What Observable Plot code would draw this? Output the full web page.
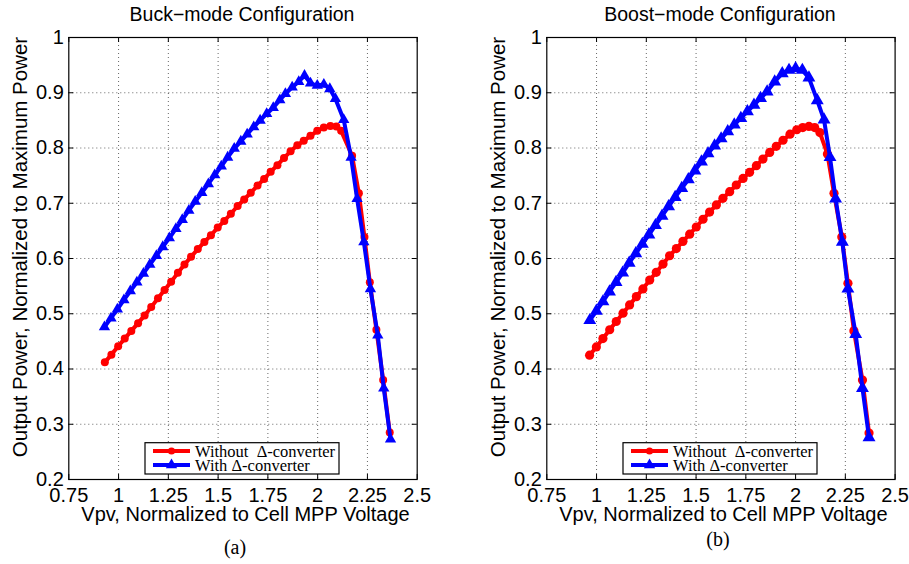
<!DOCTYPE html>
<html><head><meta charset="utf-8">
<script src="https://cdn.jsdelivr.net/npm/d3@7"></script>
<script src="https://cdn.jsdelivr.net/npm/@observablehq/plot@0.6"></script>
<style>
body{margin:0;background:#fff;}
#fig{position:relative;width:909px;height:564px;overflow:hidden;background:#fff;}
#fig svg{position:absolute;top:0;}
</style></head><body><div id="fig"></div>
<script>
// ---- tick values & labels ----
const xTicks = [0.75, 1, 1.25, 1.5, 1.75, 2, 2.25, 2.5];
const xTickLabels = ["0.75", "1", "1.25", "1.5", "1.75", "2", "2.25", "2.5"];
const yTicks = [0.2, 0.3, 0.4, 0.5, 0.6, 0.7, 0.8, 0.9, 1];
const yTickLabels = ["0.2", "0.3", "0.4", "0.5", "0.6", "0.7", "0.8", "0.9", "1"];

// ---- texts ----
const seriesNames = ["Without  \u0394-converter", "With \u0394-converter"];
const panelTitles = ["Buck\u2212mode Configuration", "Boost\u2212mode Configuration"];
const panelCaptions = ["(a)", "(b)"];
const xLabel = "Vpv, Normalized to Cell MPP Voltage";
const yLabel = "Output Power, Normalized to Maximum Power";

// ---- (a) Buck-mode data ----
const buckWithoutV = [0.931,0.964,0.998,1.031,1.064,1.098,1.131,1.164,1.198,1.231,1.264,1.298,1.331,1.364,1.398,1.431,1.464,1.498,1.531,1.564,1.598,1.631,1.664,1.698,1.731,1.764,1.798,1.831,1.864,1.898,1.930,1.964,1.998,2.031,2.064,2.094,2.118,2.173,2.207,2.235,2.262,2.295,2.329,2.362];
const buckWithoutP = [0.412,0.426,0.441,0.455,0.469,0.483,0.497,0.512,0.528,0.543,0.558,0.574,0.589,0.603,0.617,0.630,0.642,0.656,0.668,0.681,0.695,0.707,0.719,0.732,0.744,0.757,0.769,0.782,0.794,0.805,0.813,0.822,0.831,0.837,0.840,0.839,0.831,0.786,0.718,0.639,0.557,0.471,0.380,0.285];
const buckWithV = [0.929,0.962,0.994,1.027,1.059,1.092,1.125,1.157,1.190,1.222,1.255,1.288,1.320,1.353,1.385,1.418,1.451,1.483,1.516,1.548,1.581,1.614,1.646,1.679,1.711,1.744,1.777,1.810,1.838,1.872,1.905,1.934,1.964,1.998,2.031,2.061,2.089,2.131,2.168,2.198,2.232,2.265,2.302,2.332,2.366];
const buckWithP = [0.476,0.492,0.508,0.525,0.541,0.557,0.573,0.589,0.605,0.621,0.637,0.654,0.670,0.687,0.703,0.719,0.735,0.751,0.767,0.783,0.799,0.812,0.825,0.838,0.850,0.862,0.873,0.887,0.898,0.910,0.920,0.931,0.917,0.913,0.915,0.907,0.889,0.851,0.783,0.708,0.630,0.545,0.461,0.365,0.273];

// ---- (b) Boost-mode data ----
const boostWithoutV = [0.965,0.999,1.032,1.066,1.099,1.133,1.166,1.200,1.233,1.267,1.300,1.334,1.367,1.401,1.434,1.468,1.501,1.535,1.568,1.602,1.635,1.669,1.702,1.736,1.769,1.803,1.836,1.870,1.903,1.937,1.972,2.006,2.036,2.067,2.096,2.122,2.160,2.193,2.232,2.263,2.293,2.336,2.369];
const boostWithoutP = [0.425,0.440,0.455,0.471,0.486,0.501,0.516,0.531,0.545,0.561,0.575,0.590,0.605,0.618,0.631,0.644,0.657,0.671,0.684,0.697,0.709,0.721,0.733,0.745,0.756,0.768,0.780,0.792,0.803,0.814,0.825,0.833,0.837,0.839,0.837,0.828,0.789,0.718,0.639,0.555,0.469,0.380,0.284];
const boostWithV = [0.966,0.999,1.032,1.065,1.098,1.131,1.164,1.197,1.230,1.263,1.296,1.329,1.362,1.395,1.428,1.461,1.494,1.527,1.560,1.593,1.626,1.659,1.692,1.725,1.758,1.791,1.824,1.857,1.895,1.933,1.967,2.000,2.034,2.067,2.109,2.143,2.173,2.201,2.235,2.263,2.302,2.336,2.369];
const boostWithP = [0.488,0.505,0.522,0.540,0.557,0.574,0.592,0.609,0.626,0.643,0.660,0.677,0.694,0.711,0.727,0.743,0.759,0.775,0.790,0.804,0.817,0.830,0.842,0.854,0.866,0.878,0.890,0.902,0.920,0.935,0.941,0.944,0.941,0.927,0.886,0.851,0.783,0.708,0.630,0.545,0.463,0.365,0.276];

const RED = "#ff0000", BLUE = "#0000ff";
const SANS = '"Liberation Sans", Arial, Helvetica, sans-serif';
const SERIF = '"Liberation Serif", "Times New Roman", serif';

function panel({left, width, marginRight, withoutV, withoutP, withV, withP, rDot, rTri, title, caption, captionX, captionY}) {
  const H = 564, ML = 68.3, MT = 37, MB = 85;
  const pw = width - ML - marginRight, ph = H - MT - MB;
  const wo = withoutV.map((v, i) => ({v, p: withoutP[i]}));
  const wi = withV.map((v, i) => ({v, p: withP[i]}));
  const gridStyle = {stroke: "#000", strokeOpacity: 0.6, strokeDasharray: "1,3", strokeWidth: 1};
  const svg = Plot.plot({
    width, height: H, marginLeft: ML, marginRight, marginTop: MT, marginBottom: MB,
    style: {fontFamily: SANS, fontSize: "20px", background: "transparent", color: "#000", overflow: "visible"},
    x: {domain: [0.75, 2.5]},
    y: {domain: [0.2, 1]},
    marks: [
      Plot.gridX(xTicks.slice(1, -1), gridStyle),
      Plot.gridY(yTicks.slice(1, -1), gridStyle),
      Plot.tickX(xTicks, {x: d => d, insetTop: ph - 5, stroke: "#000"}),
      Plot.tickX(xTicks, {x: d => d, insetBottom: ph - 5, stroke: "#000"}),
      Plot.tickY(yTicks, {y: d => d, insetRight: pw - 5, stroke: "#000"}),
      Plot.tickY(yTicks, {y: d => d, insetLeft: pw - 5, stroke: "#000"}),
      Plot.frame({stroke: "#000", strokeWidth: 1.2}),
      Plot.axisX(xTicks, {tickSize: 0, tickPadding: 8, label: null, tickFormat: d => xTickLabels[xTicks.indexOf(d)]}),
      Plot.axisY(yTicks, {tickSize: 0, tickPadding: 5, label: null, tickFormat: d => yTickLabels[yTicks.indexOf(d)]}),
      Plot.line(wo, {x: "v", y: "p", stroke: RED, strokeWidth: 4}),
      Plot.dot(wo, {x: "v", y: "p", r: rDot, fill: RED, stroke: "none"}),
      Plot.line(wi, {x: "v", y: "p", stroke: BLUE, strokeWidth: 4}),
      Plot.dot(wi, {x: "v", y: "p", symbol: "triangle", r: rTri, fill: BLUE, stroke: "none"})
    ]
  });
  svg.style.left = left + "px";
  const s = d3.select(svg);
  // title
  s.append("text").attr("x", ML + pw / 2 - 0.5).attr("y", 21).attr("text-anchor", "middle")
    .attr("font-family", SANS).attr("font-size", "19.5px").attr("fill", "#000").text(title);
  // x label
  s.append("text").attr("x", ML + pw / 2 + 3).attr("y", 521).attr("text-anchor", "middle")
    .attr("font-family", SANS).attr("font-size", "20px").attr("fill", "#000").text(xLabel);
  // y label
  s.append("text").attr("transform", "translate(27,247) rotate(-90)").attr("text-anchor", "middle")
    .attr("font-family", SANS).attr("font-size", "20.5px").attr("fill", "#000").text(yLabel);
  // caption
  s.append("text").attr("x", captionX).attr("y", captionY).attr("text-anchor", "middle")
    .attr("font-family", SERIF).attr("font-size", "20px").attr("fill", "#000").text(caption);
  // legend
  const lg = s.append("g");
  lg.append("rect").attr("x", 145).attr("y", 442.7).attr("width", 194).attr("height", 31.3)
    .attr("fill", "#fff").attr("stroke", "#000").attr("stroke-width", 1.2);
  const rows = [{y: 451, c: RED, sym: d3.symbolCircle, r: 3.6}, {y: 465, c: BLUE, sym: d3.symbolTriangle, r: 4.2}];
  rows.forEach((row, i) => {
    lg.append("line").attr("x1", 153).attr("x2", 190).attr("y1", row.y).attr("y2", row.y)
      .attr("stroke", row.c).attr("stroke-width", 4);
    lg.append("path").attr("d", d3.symbol(row.sym, Math.PI * row.r * row.r)())
      .attr("transform", `translate(171.5,${row.y})`).attr("fill", row.c);
    lg.append("text").attr("x", 195).attr("y", row.y + 5.5).attr("text-anchor", "start")
      .attr("font-family", SERIF).attr("font-size", "16.5px").attr("fill", "#000")
      .style("white-space", "pre").text(seriesNames[i]);
  });
  document.getElementById("fig").appendChild(svg);
}

panel({left: 0, width: 440, marginRight: 23.3, withoutV: buckWithoutV, withoutP: buckWithoutP,
  withV: buckWithV, withP: buckWithP, rDot: 4, rTri: 4.2, title: panelTitles[0],
  caption: panelCaptions[0], captionX: 235, captionY: 554});
panel({left: 478, width: 431, marginRight: 14.4, withoutV: boostWithoutV, withoutP: boostWithoutP,
  withV: boostWithV, withP: boostWithP, rDot: 4.6, rTri: 4.8, title: panelTitles[1],
  caption: panelCaptions[1], captionX: 240, captionY: 546});
</script></body></html>
